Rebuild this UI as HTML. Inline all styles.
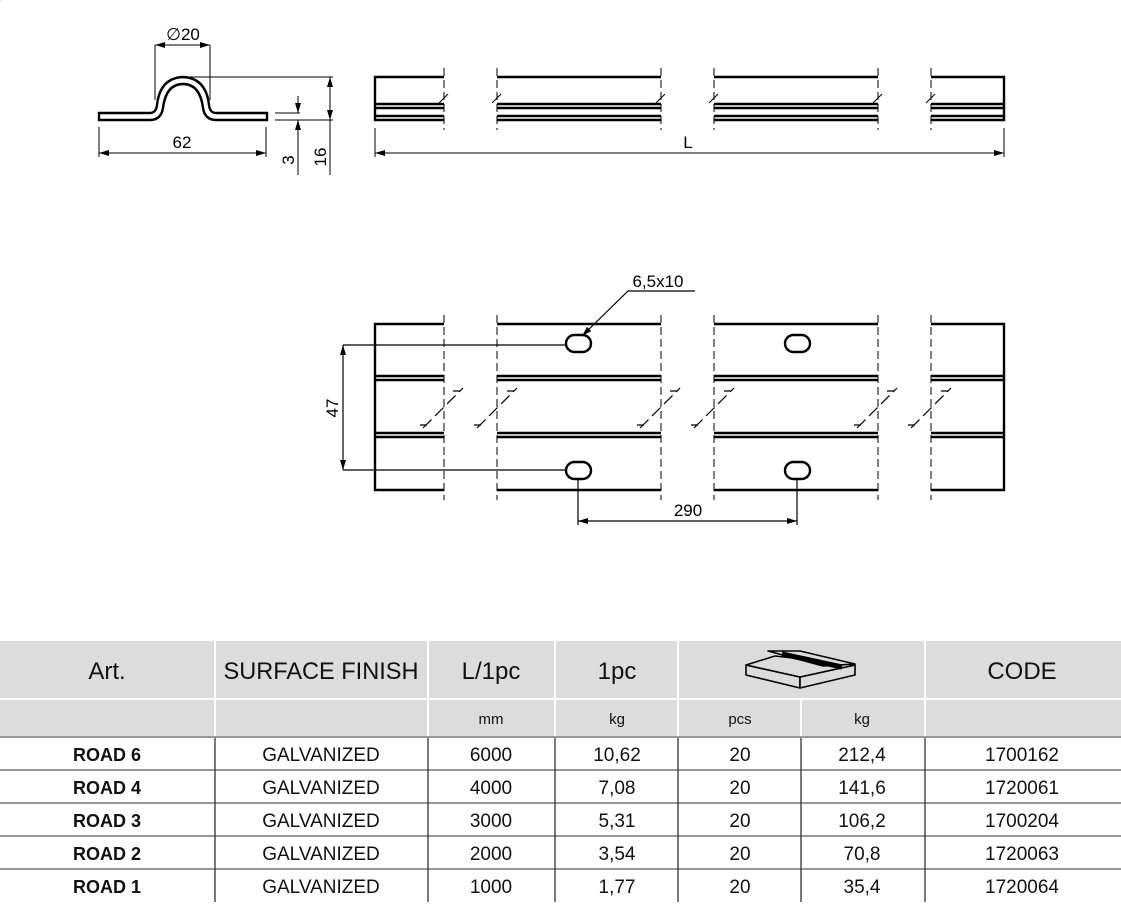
<!DOCTYPE html>
<html><head><meta charset="utf-8"><style>
html,body{margin:0;padding:0;background:#fff;}
svg{display:block;}
text{font-family:"Liberation Sans Narrow","Liberation Sans",sans-serif;}
</style></head><body>
<svg width="1121" height="908" viewBox="0 0 1121 908" xmlns="http://www.w3.org/2000/svg">
<defs>
<marker id="a" viewBox="0 0 10 6" refX="10" refY="3" markerWidth="10" markerHeight="6" orient="auto-start-reverse" markerUnits="userSpaceOnUse"><path d="M0,0 L10,3 L0,6 z" fill="#000"/></marker>
</defs>
<!-- Profile -->
<g fill="none" stroke="#000">
<path d="M99,113 L150,113 Q156,113 157,105 Q160,78 183,77 Q206,78 209,105 Q210,113 216,113 L267,113 L267,120 L216,120 Q205,120 203,108 Q200,84 183,84 Q166,84 163,108 Q161,120 150,120 L99,120 Z" stroke-width="2.4"/>
<g stroke-width="1">
<line x1="155" y1="45" x2="155" y2="100"/><line x1="210" y1="45" x2="210" y2="100"/>
<line x1="155" y1="45" x2="210" y2="45" marker-start="url(#a)" marker-end="url(#a)"/>
<line x1="99" y1="127" x2="99" y2="157"/><line x1="266" y1="127" x2="266" y2="157"/>
<line x1="99" y1="153" x2="266" y2="153" marker-start="url(#a)" marker-end="url(#a)"/>
<line x1="275" y1="113" x2="300" y2="113"/><line x1="275" y1="120" x2="300" y2="120"/>
<line x1="190" y1="77" x2="333" y2="77"/><line x1="275" y1="120" x2="333" y2="120"/>
<line x1="298" y1="96" x2="298" y2="113" marker-end="url(#a)"/>
<line x1="298" y1="175" x2="298" y2="120" marker-end="url(#a)"/>
<line x1="330" y1="77" x2="330" y2="175" />
<line x1="330" y1="98" x2="330" y2="77" marker-end="url(#a)"/>
<line x1="330" y1="98" x2="330" y2="120" marker-end="url(#a)"/>
</g></g>
<text x="183" y="40" font-size="17" text-anchor="middle">∅20</text>
<text x="182" y="148" font-size="17" text-anchor="middle">62</text>
<text transform="translate(294,160) rotate(-90)" font-size="17" text-anchor="middle">3</text>
<text transform="translate(326,157) rotate(-90)" font-size="17" text-anchor="middle">16</text>

<!-- Side view top -->
<g stroke="#000" fill="none">
<g stroke-width="2.4">
<path d="M444,77 L375,77 L375,120 L444,120"/>
<line x1="375" y1="104" x2="444" y2="104"/><line x1="375" y1="108" x2="444" y2="108"/><line x1="375" y1="116" x2="444" y2="116"/>
<line x1="497" y1="77" x2="661" y2="77"/><line x1="497" y1="104" x2="661" y2="104"/><line x1="497" y1="108" x2="661" y2="108"/><line x1="497" y1="116" x2="661" y2="116"/><line x1="497" y1="120" x2="661" y2="120"/>
<line x1="714" y1="77" x2="878" y2="77"/><line x1="714" y1="104" x2="878" y2="104"/><line x1="714" y1="108" x2="878" y2="108"/><line x1="714" y1="116" x2="878" y2="116"/><line x1="714" y1="120" x2="878" y2="120"/>
<path d="M931,77 L1004,77 L1004,120 L931,120"/>
<line x1="931" y1="104" x2="1004" y2="104"/><line x1="931" y1="108" x2="1004" y2="108"/><line x1="931" y1="116" x2="1004" y2="116"/>
</g>
<g stroke-width="1" stroke-dasharray="8,4">
<line x1="444" y1="68" x2="444" y2="130"/><line x1="497" y1="68" x2="497" y2="130"/>
<line x1="661" y1="68" x2="661" y2="130"/><line x1="714" y1="68" x2="714" y2="130"/>
<line x1="878" y1="68" x2="878" y2="130"/><line x1="931" y1="68" x2="931" y2="130"/>
</g>
<g stroke-width="1">
<line x1="439" y1="103" x2="448" y2="94"/><line x1="492" y1="103" x2="501" y2="94"/><line x1="656" y1="103" x2="665" y2="94"/><line x1="709" y1="103" x2="718" y2="94"/><line x1="873" y1="103" x2="882" y2="94"/><line x1="926" y1="103" x2="935" y2="94"/>
<line x1="375" y1="128" x2="375" y2="157"/><line x1="1004" y1="128" x2="1004" y2="157"/>
<line x1="375" y1="153" x2="1004" y2="153" marker-start="url(#a)" marker-end="url(#a)"/>
</g></g>
<text x="688" y="148" font-size="17" text-anchor="middle">L</text>

<!-- Plan view -->
<g stroke="#000" fill="none">
<g stroke-width="2.4">
<path d="M444,324 L375,324 L375,490 L444,490"/>
<line x1="375" y1="376" x2="444" y2="376"/><line x1="375" y1="380" x2="444" y2="380"/>
<line x1="375" y1="433" x2="444" y2="433"/><line x1="375" y1="437" x2="444" y2="437"/>
<path d="M931,324 L1004,324 L1004,490 L931,490"/>
<line x1="931" y1="376" x2="1004" y2="376"/><line x1="931" y1="380" x2="1004" y2="380"/>
<line x1="931" y1="433" x2="1004" y2="433"/><line x1="931" y1="437" x2="1004" y2="437"/>
<line x1="497" y1="324" x2="661" y2="324"/><line x1="497" y1="490" x2="661" y2="490"/>
<line x1="497" y1="376" x2="661" y2="376"/><line x1="497" y1="380" x2="661" y2="380"/>
<line x1="497" y1="433" x2="661" y2="433"/><line x1="497" y1="437" x2="661" y2="437"/>
<line x1="714" y1="324" x2="878" y2="324"/><line x1="714" y1="490" x2="878" y2="490"/>
<line x1="714" y1="376" x2="878" y2="376"/><line x1="714" y1="380" x2="878" y2="380"/>
<line x1="714" y1="433" x2="878" y2="433"/><line x1="714" y1="437" x2="878" y2="437"/>
<rect x="566" y="335" width="25" height="17" rx="8.5"/>
<rect x="785" y="335" width="25" height="17" rx="8.5"/>
<rect x="566" y="462" width="25" height="17" rx="8.5"/>
<rect x="785" y="462" width="25" height="17" rx="8.5"/>
</g>
<g stroke-width="1" stroke-dasharray="8,4">
<line x1="444" y1="315" x2="444" y2="500"/><line x1="497" y1="315" x2="497" y2="500"/>
<line x1="661" y1="315" x2="661" y2="500"/><line x1="714" y1="315" x2="714" y2="500"/>
<line x1="878" y1="315" x2="878" y2="500"/><line x1="931" y1="315" x2="931" y2="500"/>
</g>
<g stroke-width="1.2">
<g id="brk"><line x1="0" y1="0" x2="40" y2="-40" stroke-dasharray="12,5"/><path d="M-3,-3 l7,0 M37,-37 l-7,0"/></g>
<use href="#brk" x="423" y="428"/><use href="#brk" x="477" y="428"/><use href="#brk" x="640" y="428"/><use href="#brk" x="694" y="428"/><use href="#brk" x="857" y="428"/><use href="#brk" x="911" y="428"/>
<line x1="343" y1="345" x2="566" y2="345"/><line x1="343" y1="470" x2="566" y2="470"/>
<line x1="343" y1="345" x2="343" y2="470" marker-start="url(#a)" marker-end="url(#a)"/>
<line x1="578" y1="480" x2="578" y2="525"/><line x1="797" y1="480" x2="797" y2="525"/>
<line x1="578" y1="521" x2="797" y2="521" marker-start="url(#a)" marker-end="url(#a)"/>
<path d="M695,291 L628,291 L582,336" marker-end="url(#a)"/>
</g></g>
<text transform="translate(338,408) rotate(-90)" font-size="17" text-anchor="middle">47</text>
<text x="688" y="516" font-size="17" text-anchor="middle">290</text>
<text x="658" y="287" font-size="17" text-anchor="middle">6,5x10</text>

<!-- Table -->
<rect x="0" y="641" width="1121" height="57" fill="#dcdcdc"/>
<rect x="0" y="700" width="1121" height="36" fill="#dcdcdc"/>
<g stroke="#fff" stroke-width="2">
<line x1="215" y1="641" x2="215" y2="736"/><line x1="428" y1="641" x2="428" y2="736"/><line x1="555" y1="641" x2="555" y2="736"/><line x1="678" y1="641" x2="678" y2="736"/><line x1="925" y1="641" x2="925" y2="736"/><line x1="801" y1="700" x2="801" y2="736"/>
</g>
<line x1="0" y1="737" x2="1121" y2="737" stroke="#999" stroke-width="2"/>
<g stroke="#777" stroke-width="1.5">
<line x1="0" y1="770" x2="1121" y2="770"/><line x1="0" y1="803" x2="1121" y2="803"/><line x1="0" y1="836" x2="1121" y2="836"/><line x1="0" y1="869" x2="1121" y2="869"/>
</g>
<g stroke="#333" stroke-width="1.3">
<line x1="215" y1="738" x2="215" y2="902"/><line x1="428" y1="738" x2="428" y2="902"/><line x1="555" y1="738" x2="555" y2="902"/><line x1="678" y1="738" x2="678" y2="902"/><line x1="801" y1="738" x2="801" y2="902"/><line x1="925" y1="738" x2="925" y2="902"/>
</g>
<!-- box icon -->
<g stroke="#000" stroke-width="1.6" fill="#dcdcdc" stroke-linejoin="round">
<polygon points="746,665 800,677 800,688 746,675"/>
<polygon points="800,677 855,665 855,675 800,688"/>
<polygon points="746,665 775,656 855,665 800,677"/>
<polygon points="768,651 800,651 855,664 823,666"/>
<line x1="782" y1="654" x2="842" y2="667" stroke-width="5"/>
</g>
<g font-size="24" text-anchor="middle" fill="#111">
<text x="107" y="679">Art.</text>
<text x="321" y="679" textLength="195" lengthAdjust="spacingAndGlyphs">SURFACE FINISH</text>
<text x="491" y="679">L/1pc</text>
<text x="617" y="679">1pc</text>
<text x="1022" y="679">CODE</text>
</g>
<g font-size="15" text-anchor="middle" fill="#111">
<text x="491" y="724">mm</text><text x="617" y="724">kg</text><text x="740" y="724">pcs</text><text x="862" y="724">kg</text>
</g>
<g font-size="19" text-anchor="middle" fill="#111">
<g font-family="Liberation Sans" font-weight="bold" font-size="18">
<text x="107" y="761">ROAD 6</text><text x="107" y="794">ROAD 4</text><text x="107" y="827">ROAD 3</text><text x="107" y="860">ROAD 2</text><text x="107" y="893">ROAD 1</text>
</g>
<text x="321" y="761">GALVANIZED</text><text x="321" y="794">GALVANIZED</text><text x="321" y="827">GALVANIZED</text><text x="321" y="860">GALVANIZED</text><text x="321" y="893">GALVANIZED</text>
<text x="491" y="761">6000</text><text x="491" y="794">4000</text><text x="491" y="827">3000</text><text x="491" y="860">2000</text><text x="491" y="893">1000</text>
<text x="617" y="761">10,62</text><text x="617" y="794">7,08</text><text x="617" y="827">5,31</text><text x="617" y="860">3,54</text><text x="617" y="893">1,77</text>
<text x="740" y="761">20</text><text x="740" y="794">20</text><text x="740" y="827">20</text><text x="740" y="860">20</text><text x="740" y="893">20</text>
<text x="862" y="761">212,4</text><text x="862" y="794">141,6</text><text x="862" y="827">106,2</text><text x="862" y="860">70,8</text><text x="862" y="893">35,4</text>
<text x="1022" y="761">1700162</text><text x="1022" y="794">1720061</text><text x="1022" y="827">1700204</text><text x="1022" y="860">1720063</text><text x="1022" y="893">1720064</text>
</g>
</svg>
</body></html>
